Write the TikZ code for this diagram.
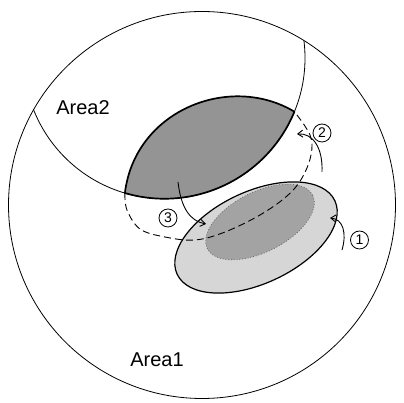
\documentclass[tikz,border=0pt]{standalone}
\usepackage{fontspec}
\setmainfont{Liberation Sans}
\usetikzlibrary{arrows.meta}
\begin{document}
\begin{tikzpicture}[x=1pt,y=1pt,
  thinline/.style={line width=0.8pt},
  lensline/.style={line width=1.7pt},
  flowarrow/.style={line width=0.9pt,-{Straight Barb[length=5pt,width=7pt]}},
  numlabel/.style={circle,draw,line width=0.8pt,minimum size=18pt,inner sep=0pt,
    font=\fontsize{14}{14}\selectfont},
  arealabel/.style={font=\fontsize{20}{20}\selectfont,inner sep=0pt}]
\useasboundingbox (0,0) rectangle (404,403);
% outer circle (Area1)
\coordinate (c1) at (202,198);
\draw[thinline] (c1) circle[radius=193.5];
% Area2 circle, clipped to Area1
\coordinate (c2) at (164.4,344.9);
\begin{scope}
  \clip (c1) circle[radius=193.5];
  \draw[thinline] (c2) circle[radius=140.6];
\end{scope}
% dark lens
\coordinate (lensL) at (124.9,210.0);
\coordinate (lensR) at (294.4,291.3);
\filldraw[fill=black!42,lensline,line join=round]
  (lensL) .. controls (135,293) and (230,330) .. (lensR)
  arc[start angle=-22.4,end angle=-106.3,radius=140.6] -- cycle;
% light ellipse
\coordinate (e1) at (256,165.5);
\filldraw[fill=black!16,line width=1.2pt,rotate around={25:(e1)}]
  (e1) ellipse[x radius=87,y radius=46];
% inner ellipse
\coordinate (e2) at (260,181);
\filldraw[fill=black!36,draw=black!60,line width=0.8pt,dotted,rotate around={27:(e2)}]
  (e2) ellipse[x radius=59,y radius=30];
% dashed loop
\draw[line width=0.9pt,dash pattern=on 7pt off 4pt] plot[smooth,tension=0.6] coordinates
  {(124.9,210) (127,193) (140,174) (165,166) (195,163) (225,171) (260,188)
   (287,207) (302,225) (311,248) (310,268) (294.4,291.3)};
% arrows
\coordinate (a1s) at (342,153);
\coordinate (a1e) at (330,185);
\draw[flowarrow] (a1s) .. controls (347,170) and (343,184) .. (a1e);
\coordinate (a2s) at (322,231);
\coordinate (a2e) at (297,269);
\draw[flowarrow] (a2s) .. controls (323,255) and (313,270) .. (a2e);
\coordinate (a3s) at (178,221);
\coordinate (a3e) at (206,179);
\draw[flowarrow] (a3s) .. controls (181,195) and (190,182) .. (a3e);
% labels
\node[numlabel] (n1) at (359.5,163) {1};
\node[numlabel] (n2) at (322,270) {2};
\node[numlabel] (n3) at (168,185) {3};
\node[arealabel] (area2) at (83,295) {Area2};
\node[arealabel] (area1) at (157,43) {Area1};
\end{tikzpicture}
\end{document}
